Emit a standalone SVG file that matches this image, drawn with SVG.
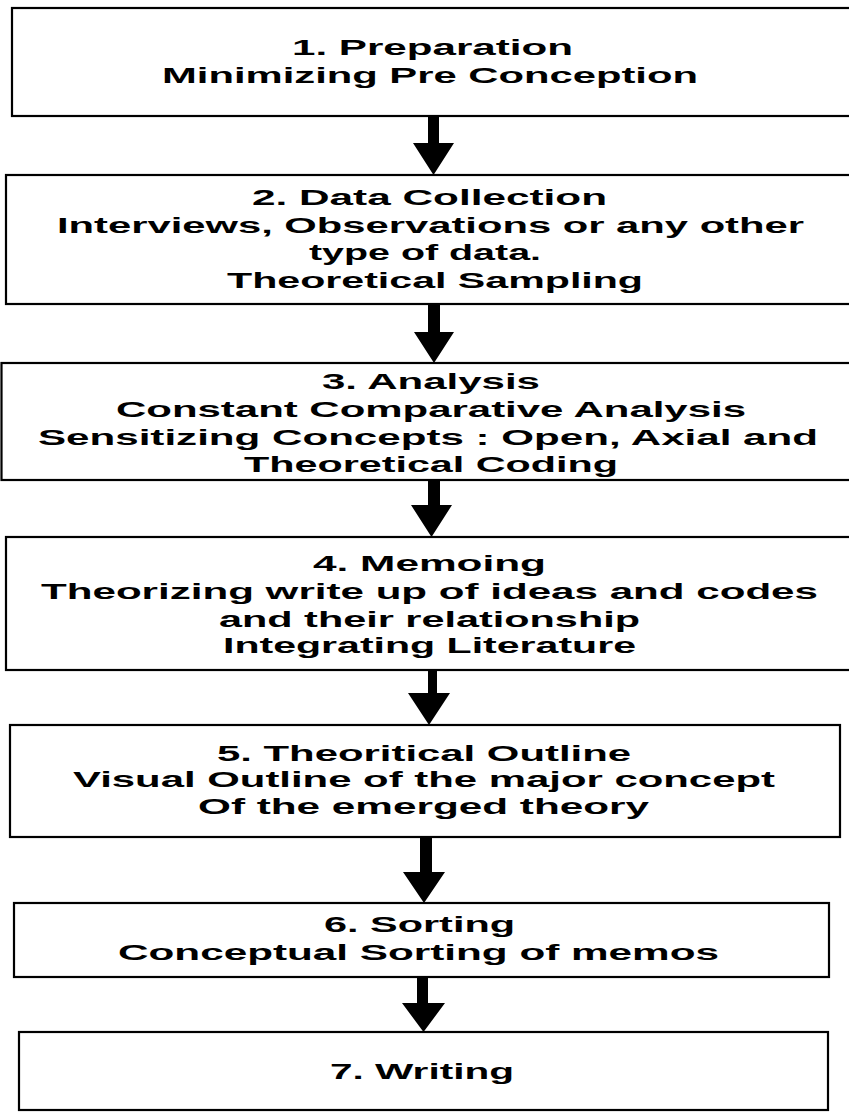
<svg xmlns="http://www.w3.org/2000/svg" width="849" height="1112" viewBox="0 0 849 1112">
<style>
.box{fill:#fff;stroke:#000;stroke-width:2.2}
.t{font-family:"Liberation Sans",Arial,Helvetica,sans-serif;font-weight:bold;font-size:22px;fill:#000;text-anchor:middle}
.arr{fill:#000;stroke:none}
</style>
<rect width="849" height="1112" fill="#fff"/>
<g id="connectors">
<polygon class="arr" points="428,116 439,116 439,143 454,143 433.5,175 413,143 428,143"/>
<polygon class="arr" points="428,304 440,304 440,332 454,332 434,363 414,332 428,332"/>
<polygon class="arr" points="428,480 440,480 440,505 452,505 431.5,537 411,505 428,505"/>
<polygon class="arr" points="428,670 437,670 437,693 450,693 429,725 408,693 428,693"/>
<polygon class="arr" points="420,837 432,837 432,872 445,872 424,903 403,872 420,872"/>
<polygon class="arr" points="417,977 428,977 428,1003 445,1003 423.5,1032 402,1003 417,1003"/>
</g>
<g id="n1">
<rect class="box" x="12" y="8" width="850" height="108"/>
<text class="t" x="432.5" y="55" textLength="281" lengthAdjust="spacingAndGlyphs">1. Preparation</text>
<text class="t" x="430" y="83" textLength="536" lengthAdjust="spacingAndGlyphs">Minimizing Pre Conception</text>
</g>
<g id="n2">
<rect class="box" x="6" y="175" width="856" height="129"/>
<text class="t" x="429.5" y="205" textLength="355" lengthAdjust="spacingAndGlyphs">2. Data Collection</text>
<text class="t" x="430.5" y="233" textLength="747" lengthAdjust="spacingAndGlyphs">Interviews, Observations or any other</text>
<text class="t" x="425" y="260" textLength="232" lengthAdjust="spacingAndGlyphs">type of data.</text>
<text class="t" x="435" y="288" textLength="416" lengthAdjust="spacingAndGlyphs">Theoretical Sampling</text>
</g>
<g id="n3">
<rect class="box" x="1.5" y="363" width="860" height="117"/>
<text class="t" x="431" y="389" textLength="218" lengthAdjust="spacingAndGlyphs">3. Analysis</text>
<text class="t" x="431" y="417" textLength="630" lengthAdjust="spacingAndGlyphs">Constant Comparative Analysis</text>
<text class="t" x="428" y="445" textLength="780" lengthAdjust="spacingAndGlyphs">Sensitizing Concepts : Open, Axial and</text>
<text class="t" x="431" y="472" textLength="374" lengthAdjust="spacingAndGlyphs">Theoretical Coding</text>
</g>
<g id="n4">
<rect class="box" x="6" y="537" width="856" height="133"/>
<text class="t" x="429.5" y="571" textLength="233" lengthAdjust="spacingAndGlyphs">4. Memoing</text>
<text class="t" x="429.5" y="599" textLength="777" lengthAdjust="spacingAndGlyphs">Theorizing write up of ideas and codes</text>
<text class="t" x="429.5" y="627" textLength="421" lengthAdjust="spacingAndGlyphs">and their relationship</text>
<text class="t" x="429.5" y="653" textLength="413" lengthAdjust="spacingAndGlyphs">Integrating Literature</text>
</g>
<g id="n5">
<rect class="box" x="10" y="725" width="830" height="112"/>
<text class="t" x="424" y="761" textLength="414" lengthAdjust="spacingAndGlyphs">5. Theoritical Outline</text>
<text class="t" x="424" y="787" textLength="702" lengthAdjust="spacingAndGlyphs">Visual Outline of the major concept</text>
<text class="t" x="423.5" y="814" textLength="451" lengthAdjust="spacingAndGlyphs">Of the emerged theory</text>
</g>
<g id="n6">
<rect class="box" x="14" y="903" width="815" height="74"/>
<text class="t" x="419.5" y="932" textLength="191" lengthAdjust="spacingAndGlyphs">6. Sorting</text>
<text class="t" x="418.5" y="960" textLength="601" lengthAdjust="spacingAndGlyphs">Conceptual Sorting of memos</text>
</g>
<g id="n7">
<rect class="box" x="19" y="1032" width="809" height="78"/>
<text class="t" x="422" y="1079" textLength="184" lengthAdjust="spacingAndGlyphs">7. Writing</text>
</g>
</svg>
